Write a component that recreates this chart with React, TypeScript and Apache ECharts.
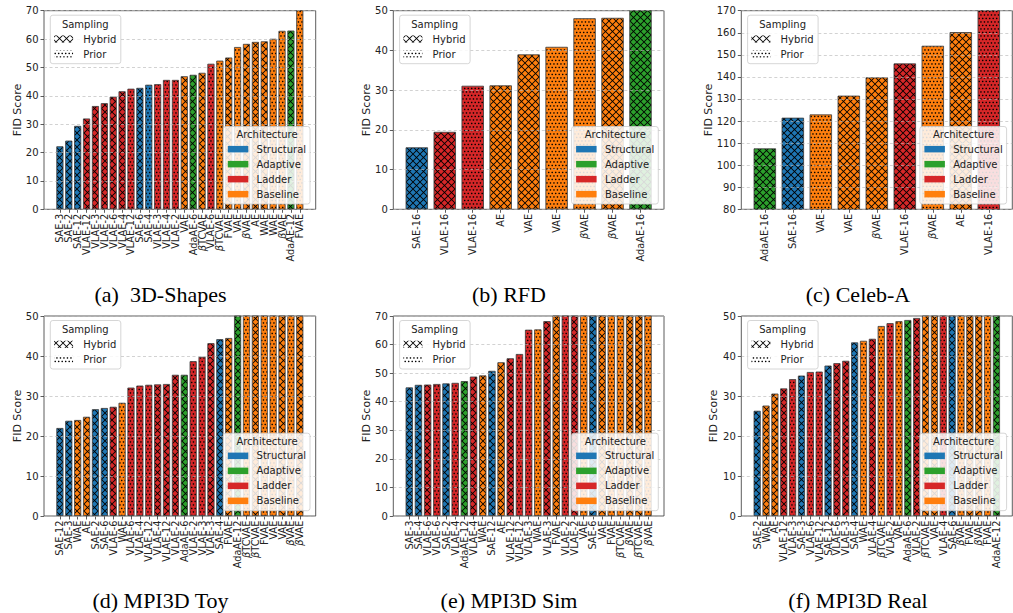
import React, { useEffect, useRef } from 'react';
import * as echarts from 'echarts';

// ---------- data ----------
const panelTitles = ['(a)  3D-Shapes', '(b) RFD', '(c) Celeb-A', '(d) MPI3D Toy', '(e) MPI3D Sim', '(f) MPI3D Real'];

const labelsA = ['SAE-3','SAE-2','SAE-12','VLAE-12','VLAE-3','VLAE-2','VLAE-6','VLAE-4','VLAE-12','SAE-6','SAE-4','VLAE-3','VLAE-4','VLAE-2','VAE','AdaAE-6','βTCVAE','VLAE-6','βTCVAE','FVAE','VAE','βVAE','AE','WAE','WAE','βVAE','AdaAE-12','FVAE'];
const valuesA = [22.2, 24.2, 29.4, 32.0, 36.4, 37.4, 39.7, 41.6, 42.5, 42.8, 43.9, 44.1, 45.6, 45.6, 46.9, 47.4, 48.1, 51.3, 52.4, 53.5, 57.2, 58.3, 59.0, 59.2, 60.1, 62.9, 63.0, 72.0];
const samplingA = ['H','H','H','H','H','H','H','H','P','H','P','P','P','P','H','H','H','P','P','H','P','H','H','H','P','P','H','P'];

const labelsB = ['SAE-16','VLAE-16','VLAE-16','AE','VAE','VAE','βVAE','βVAE','AdaAE-16'];
const valuesB = [15.6, 19.5, 31.1, 31.2, 39.0, 40.9, 48.1, 48.2, 52.0];
const samplingB = ['H','H','P','H','H','P','P','H','H'];

const labelsC = ['AdaAE-16','SAE-16','VAE','VAE','βVAE','VLAE-16','βVAE','AE','VLAE-16'];
const valuesC = [107.6, 121.5, 123.0, 131.5, 139.8, 146.1, 154.1, 160.3, 175.0];
const samplingC = ['H','H','P','H','H','H','P','H','P'];

const labelsD = ['SAE-12','SAE-3','WAE','AE','SAE-2','SAE-6','VLAE-6','WAE','VLAE-6','VLAE-4','VLAE-12','VLAE-4','VLAE-12','VLAE-2','AdaAE-6','VLAE-2','VLAE-3','VLAE-3','SAE-4','FVAE','AdaAE-12','βTCVAE','βTCVAE','FVAE','VAE','VAE','βVAE','βVAE'];
const valuesD = [22.0, 23.8, 24.0, 24.8, 26.7, 27.0, 27.3, 28.3, 32.1, 32.6, 32.8, 32.9, 33.0, 35.3, 35.3, 38.7, 39.8, 43.2, 44.2, 44.5, 53.5, 56.1, 58.4, 61.0, 64.2, 67.5, 71.3, 76.8];
const samplingD = ['H','H','H','H','H','H','H','P','P','P','P','H','H','H','H','P','P','H','H','H','H','P','H','P','P','H','P','H'];

const labelsE = ['SAE-3','SAE-4','VLAE-6','VLAE-6','SAE-2','VLAE-4','AdaAE-12','VLAE-4','WAE','SAE-12','AE','VLAE-12','VLAE-12','VLAE-3','WAE','VLAE-3','FVAE','VLAE-2','VLAE-2','VAE','SAE-6','VAE','FVAE','βTCVAE','βVAE','βTCVAE','βVAE'];
const valuesE = [45.0, 45.9, 46.0, 46.2, 46.4, 46.6, 47.2, 48.8, 49.2, 50.8, 53.8, 55.2, 56.7, 65.2, 65.3, 68.2, 71.5, 73.0, 74.8, 76.5, 79.0, 82.4, 86.1, 90.5, 95.2, 101.3, 108.6];
const samplingE = ['H','H','H','P','H','P','H','H','H','H','H','H','P','P','P','H','H','P','H','P','H','H','P','P','H','H','P'];

const labelsF = ['SAE-2','WAE','AE','VLAE-12','VLAE-3','SAE-3','VLAE-6','VLAE-12','SAE-12','VLAE-6','VLAE-3','SAE-4','WAE','VLAE-4','βTCVAE','VLAE-2','VAE','AdaAE-6','VLAE-2','βTCVAE','VAE','VLAE-4','SAE-6','βVAE','FVAE','βVAE','FVAE','AdaAE-12'];
const valuesF = [26.3, 27.6, 30.6, 31.9, 34.2, 35.1, 36.0, 36.1, 37.6, 38.2, 38.8, 43.4, 43.8, 44.3, 47.5, 48.2, 48.7, 49.0, 49.5, 50.6, 51.8, 53.2, 54.9, 57.0, 59.6, 62.8, 66.5, 71.2];
const samplingF = ['H','H','H','H','P','H','P','P','H','H','H','H','P','H','P','P','P','H','H','H','H','P','H','P','H','H','P','H'];

const yMins = [0, 0, 80, 0, 0, 0];
const yMaxs = [70, 50, 170, 50, 70, 50];
const yStep = 10;

const archNames = ['Structural', 'Adaptive', 'Ladder', 'Baseline'];
const samplingNames = ['Hybrid', 'Prior'];
const yLabel = 'FID Score';

// ---------- styles / layout ----------
const ARCH_COLORS: Record<string, string> = {
  Structural: '#1f77b4',
  Adaptive: '#2ca02c',
  Ladder: '#d62728',
  Baseline: '#ff7f0e',
};
const FONT = "'DejaVu Sans', 'Noto Sans', sans-serif";
const SERIF = "'Liberation Serif', 'DejaVu Serif', serif";

const frames = [
  { l: 44, r: 315.7, t: 10.7, b: 209.3 },
  { l: 393.3, r: 664, t: 10.7, b: 209.3 },
  { l: 741.3, r: 1012.3, t: 10.7, b: 209.3 },
  { l: 44, r: 315.7, t: 316, b: 516 },
  { l: 393.3, r: 664, t: 316, b: 516 },
  { l: 741.3, r: 1012.3, t: 316, b: 516 },
];
const captionPos = [[160.5, 294], [509, 294], [858, 294], [160.5, 600], [509, 600], [858, 600]];
const yLabelPos = [[17, 110], [366, 110], [708, 110], [17, 416], [366, 416], [713.3, 416]];

function archOf(label: string): string {
  if (label.startsWith('SAE')) return 'Structural';
  if (label.startsWith('VLAE')) return 'Ladder';
  if (label.startsWith('AdaAE')) return 'Adaptive';
  return 'Baseline';
}

const TILE = 7;
const SCALE = 4;
function makeTile(bg: string, kind: string): any {
  const c = document.createElement('canvas');
  c.width = TILE * SCALE;
  c.height = TILE * SCALE;
  const ctx = c.getContext('2d')!;
  ctx.scale(SCALE, SCALE);
  ctx.fillStyle = bg;
  ctx.fillRect(0, 0, TILE, TILE);
  ctx.fillStyle = '#000';
  ctx.strokeStyle = '#000';
  if (kind === 'H') {
    ctx.lineWidth = 0.85;
    ctx.beginPath();
    for (const k of [-TILE, 0, TILE]) {
      ctx.moveTo(k - 1, -1);
      ctx.lineTo(k + TILE + 1, TILE + 1);
      ctx.moveTo(k + TILE + 1, -1);
      ctx.lineTo(k - 1, TILE + 1);
    }
    ctx.stroke();
  } else {
    const h = TILE / 2;
    const pts = [[0, 0], [h, 0], [h / 2, h], [h / 2 + h, h]];
    for (const [px, py] of pts) {
      ctx.beginPath();
      ctx.arc(px + 0.95, py + 0.95, 0.78, 0, Math.PI * 2);
      ctx.fill();
    }
  }
  return { image: c, repeat: 'repeat', imageWidth: TILE, imageHeight: TILE };
}

const panels = [
  { labels: labelsA, values: valuesA, sampling: samplingA },
  { labels: labelsB, values: valuesB, sampling: samplingB },
  { labels: labelsC, values: valuesC, sampling: samplingC },
  { labels: labelsD, values: valuesD, sampling: samplingD },
  { labels: labelsE, values: valuesE, sampling: samplingE },
  { labels: labelsF, values: valuesF, sampling: samplingF },
];

function buildOption(): any {
  const tiles: Record<string, any> = {};
  const tile = (bg: string, kind: string) => {
    const key = bg + kind;
    if (!tiles[key]) tiles[key] = makeTile(bg, kind);
    return tiles[key];
  };

  const grid: any[] = [];
  const xAxis: any[] = [];
  const yAxis: any[] = [];
  const series: any[] = [];
  const graphic: any[] = [];

  panels.forEach((pd, i) => {
    const f = frames[i];
    const n = pd.labels.length;
    const W = f.r - f.l;
    const H = f.b - f.t;
    const p = W / ((n - 0.2) * 1.1);
    const m = 0.05 * (n - 0.2);
    const leftB = f.l + (m - 0.1) * p;
    const widthB = n * p;

    grid.push({ left: f.l, top: f.t, width: W, height: H, show: true, borderColor: '#333', borderWidth: 0.8, backgroundColor: 'transparent' });
    grid.push({ left: leftB, top: f.t, width: widthB, height: H });

    xAxis.push({ gridIndex: 2 * i, type: 'value', min: 0, max: 1, show: false });
    xAxis.push({
      gridIndex: 2 * i + 1,
      type: 'category',
      data: pd.labels,
      axisLine: { show: false },
      axisTick: { show: true, alignWithLabel: true, length: 3.5, lineStyle: { color: '#333', width: 0.8 } },
      axisLabel: {
        rotate: 90,
        interval: 0,
        margin: 4.5,
        fontSize: 9.8,
        fontFamily: FONT,
        color: '#222',
        formatter: (v: string) => (v.startsWith('β') ? '{it|β}' + v.slice(1) : v),
        rich: { it: { fontStyle: 'italic', fontSize: 9.8, fontFamily: FONT, color: '#222' } },
      },
      splitLine: { show: false },
    });

    yAxis.push({
      gridIndex: 2 * i,
      type: 'value',
      min: yMins[i],
      max: yMaxs[i],
      interval: yStep,
      z: 5,
      axisLine: { show: false },
      axisTick: { show: true, length: 3.5, lineStyle: { color: '#333', width: 0.8 } },
      axisLabel: { fontSize: 10, margin: 5.5, fontFamily: FONT, color: '#222' },
      splitLine: { show: true, lineStyle: { color: '#b8b8b8', width: 0.8, type: [3, 2.5], opacity: 0.8 } },
    });
    yAxis.push({ gridIndex: 2 * i + 1, type: 'value', min: yMins[i], max: yMaxs[i], show: false });

    series.push({
      type: 'bar',
      xAxisIndex: 2 * i + 1,
      yAxisIndex: 2 * i + 1,
      barCategoryGap: '20%',
      clip: true,
      z: 2,
      data: pd.values.map((v, j) => ({
        value: v,
        itemStyle: {
          color: tile(ARCH_COLORS[archOf(pd.labels[j])], pd.sampling[j]),
          borderColor: '#3a3a3a',
          borderWidth: 0.8,
        },
      })),
    });

    // y label
    graphic.push({
      type: 'text',
      x: yLabelPos[i][0],
      y: yLabelPos[i][1],
      rotation: Math.PI / 2,
      z: 20,
      style: { text: yLabel, fontSize: 11, fontFamily: FONT, fill: '#222', align: 'center', verticalAlign: 'middle' },
    });

    // caption
    graphic.push({
      type: 'text',
      x: captionPos[i][0],
      y: captionPos[i][1],
      z: 20,
      style: { text: panelTitles[i], fontSize: 22, fontFamily: SERIF, fill: '#000', align: 'center', verticalAlign: 'middle' },
    });

    // Sampling legend
    const sx = f.l + 6.3;
    const sy = f.t + 4.5;
    graphic.push({
      type: 'rect', z: 30,
      shape: { x: sx, y: sy, width: 70.5, height: 48.5, r: 2.5 },
      style: { fill: 'rgba(255,255,255,0.85)', stroke: '#cccccc', lineWidth: 0.8 },
    });
    graphic.push({
      type: 'text', z: 31, x: sx + 35, y: sy + 9.3,
      style: { text: 'Sampling', fontSize: 10, fontFamily: FONT, fill: '#222', align: 'center', verticalAlign: 'middle' },
    });
    samplingNames.forEach((name, k) => {
      const ry = sy + 23.8 + 15 * k;
      graphic.push({
        type: 'rect', z: 31,
        shape: { x: sx + 3.8, y: ry - 3.6, width: 19, height: 7.2 },
        style: { fill: tile('#ffffff', k === 0 ? 'H' : 'P'), stroke: null },
      });
      graphic.push({
        type: 'text', z: 31, x: sx + 33, y: ry,
        style: { text: name, fontSize: 10, fontFamily: FONT, fill: '#222', align: 'left', verticalAlign: 'middle' },
      });
    });

    // Architecture legend
    const aw = 86.7;
    const ah = 77.5;
    const ax = f.r - 5.7 - aw;
    const ay = f.b - 5.3 - ah;
    graphic.push({
      type: 'rect', z: 30,
      shape: { x: ax, y: ay, width: aw, height: ah, r: 2.5 },
      style: { fill: 'rgba(255,255,255,0.85)', stroke: '#cccccc', lineWidth: 0.8 },
    });
    graphic.push({
      type: 'text', z: 31, x: ax + 43.7, y: ay + 8.2,
      style: { text: 'Architecture', fontSize: 10, fontFamily: FONT, fill: '#222', align: 'center', verticalAlign: 'middle' },
    });
    archNames.forEach((name, k) => {
      const ry = ay + 22.6 + 15 * k;
      graphic.push({
        type: 'rect', z: 31,
        shape: { x: ax + 4.5, y: ry - 3.2, width: 20.5, height: 6.5 },
        style: { fill: ARCH_COLORS[name], stroke: null },
      });
      graphic.push({
        type: 'text', z: 31, x: ax + 33.3, y: ry,
        style: { text: name, fontSize: 10, fontFamily: FONT, fill: '#222', align: 'left', verticalAlign: 'middle' },
      });
    });
  });

  return {
    animation: false,
    backgroundColor: '#ffffff',
    textStyle: { fontFamily: FONT },
    grid,
    xAxis,
    yAxis,
    series,
    graphic: { elements: graphic },
  };
}

export default function App() {
  const ref = useRef<HTMLDivElement>(null);
  useEffect(() => {
    if (!ref.current) return;
    const chart = echarts.init(ref.current, undefined, { renderer: 'svg' });
    chart.setOption(buildOption());
    return () => chart.dispose();
  }, []);
  return (
    <div
      ref={ref}
      style={{ position: 'fixed', left: 0, top: 0, width: 1013, height: 613, background: '#fff' }}
    />
  );
}
